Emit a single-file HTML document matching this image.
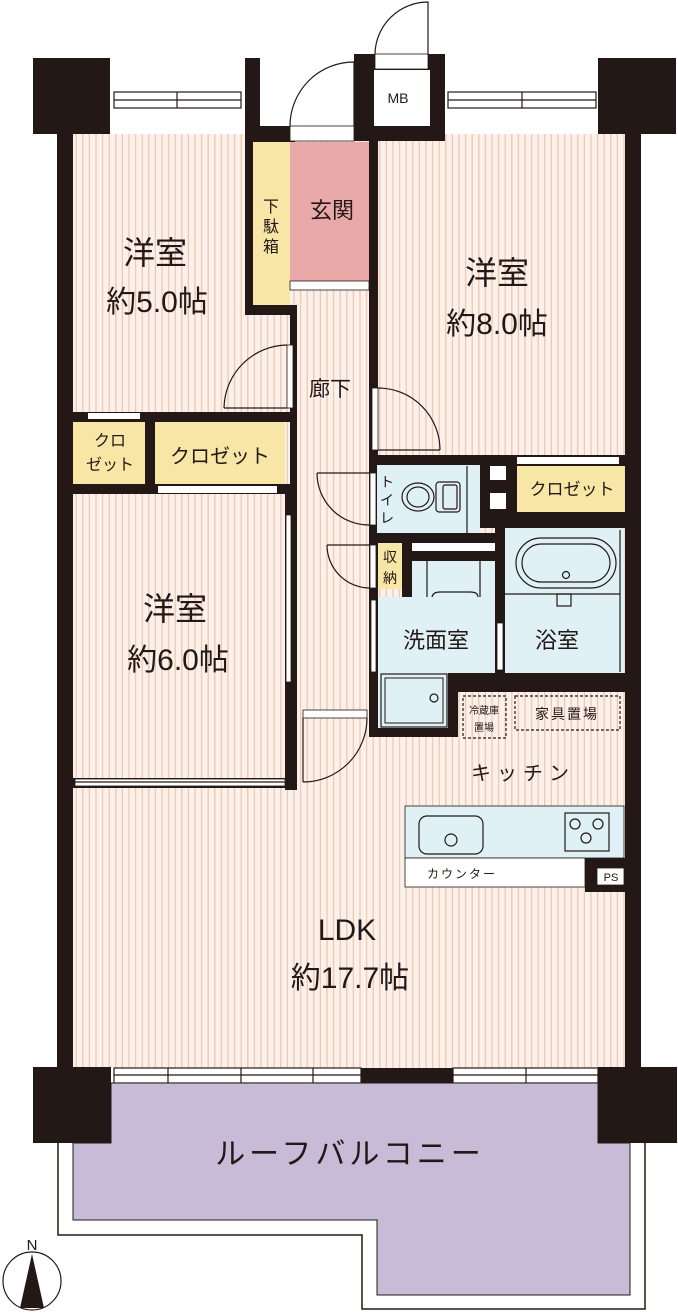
<!DOCTYPE html>
<html><head><meta charset="utf-8"><style>
html,body{margin:0;padding:0;background:#fff;}
svg{display:block;}
text{font-family:"Liberation Sans","Noto Sans CJK JP",sans-serif;fill:#231815;}
</style></head><body>
<svg width="678" height="1314" viewBox="0 0 678 1314" xmlns="http://www.w3.org/2000/svg">
<defs>
<pattern id="st" width="6.6" height="10" patternUnits="userSpaceOnUse">
<rect width="6.6" height="10" fill="#fcf0ed"/>
<rect x="3" width="1.2" height="10" fill="#ebc7a6"/>
</pattern>
</defs>
<!-- floors -->
<rect x="73" y="134" width="554" height="934" fill="url(#st)"/>
<!-- top windows -->
<g fill="#fff" stroke="#231815" stroke-width="1.2">
<rect x="114" y="92" width="127" height="16"/><line x1="114" y1="100" x2="241" y2="100"/><line x1="177" y1="92" x2="177" y2="108"/>
<rect x="448" y="92" width="148" height="16"/><line x1="448" y1="100" x2="596" y2="100"/><line x1="522" y1="92" x2="522" y2="108"/>
</g>
<g fill="#231815">
<rect x="33" y="58" width="77" height="76"/>
<rect x="598" y="58" width="78" height="76"/>
<rect x="57" y="134" width="16" height="934"/>
<rect x="625" y="134" width="16" height="934"/>
<rect x="245" y="58" width="15" height="84"/>
<rect x="245" y="126" width="50" height="16"/>
<rect x="245" y="142" width="8" height="173"/>
<rect x="245" y="305" width="52" height="10"/>
<rect x="354" y="54" width="91" height="87"/>
<rect x="369" y="141" width="9" height="324"/>
<rect x="290" y="305" width="7" height="485"/>
<rect x="73" y="412" width="220" height="10"/>
<rect x="145" y="412" width="10" height="80"/>
<rect x="73" y="484" width="220" height="10"/>
<rect x="285" y="494" width="8" height="296"/>
<rect x="73" y="778" width="220" height="10"/>
<rect x="369" y="455" width="272" height="11"/>
<rect x="369" y="455" width="9" height="282"/>
<rect x="480" y="455" width="37" height="73"/>
<rect x="480" y="512" width="161" height="16"/>
<rect x="369" y="533" width="136" height="10"/>
<rect x="495" y="528" width="10" height="164"/>
<rect x="402" y="543" width="10" height="54"/>
<rect x="402" y="551" width="93" height="10"/>
<rect x="369" y="589" width="9" height="148"/>
<rect x="448" y="673" width="193" height="19"/>
<rect x="448" y="673" width="10" height="64"/>
<rect x="369" y="728" width="89" height="9"/>
<rect x="522" y="858" width="103" height="8"/>
<rect x="585" y="858" width="40" height="34"/>
<!-- bottom -->
<rect x="33" y="1067" width="78" height="76"/>
<rect x="598" y="1067" width="79" height="76"/>
<rect x="361" y="1068" width="92" height="15"/>
</g>
<!-- colored rooms -->
<rect x="253" y="142" width="37" height="163" fill="#f7e6a5"/>
<rect x="290" y="142" width="79" height="139" fill="#e8a9a8"/>
<rect x="290" y="281" width="79" height="9" fill="#fff" stroke="#231815" stroke-width="0.8"/>
<rect x="290" y="126" width="64" height="15" fill="#fff" stroke="#231815" stroke-width="0.8"/>
<rect x="374" y="70" width="56" height="56" fill="#fff"/>
<rect x="375" y="54" width="53" height="15" fill="#fff" stroke="#231815" stroke-width="0.8"/>
<rect x="73" y="422" width="72" height="62" fill="#f7e6a5"/>
<rect x="155" y="422" width="130" height="62" fill="#f7e6a5"/>
<rect x="88" y="413" width="52" height="6" fill="#fff"/>
<rect x="158" y="486" width="119" height="7" fill="#fff"/>
<rect x="377" y="465" width="103" height="68" fill="#dff1f4"/>
<rect x="490" y="466" width="16" height="14" fill="#fff"/>
<rect x="490" y="493" width="16" height="16" fill="#fff"/>
<rect x="517" y="466" width="107" height="46" fill="#f7e6a5"/>
<rect x="517" y="457" width="102" height="7" fill="#fff"/>
<rect x="505" y="528" width="119" height="145" fill="#dff1f4"/>
<rect x="378" y="543" width="24" height="46" fill="#f7e6a5"/>
<rect x="412" y="543" width="83" height="8" fill="#fff"/>
<rect x="412" y="561" width="83" height="36" fill="#dff1f4"/>
<rect x="378" y="597" width="117" height="76" fill="#dff1f4"/>
<rect x="378" y="673" width="70" height="55" fill="#dff1f4"/>
<rect x="381" y="674" width="66" height="53" fill="#dff1f4" stroke="#231815" stroke-width="1.2"/>
<rect x="385" y="678" width="58" height="45" fill="none" stroke="#231815" stroke-width="1"/>
<circle cx="434" cy="698" r="4" fill="none" stroke="#231815" stroke-width="1.2"/>
<!-- door leaves/sliding -->
<g fill="#fff" stroke="#231815" stroke-width="0.8">
<rect x="287" y="345" width="6" height="63"/>
<rect x="372" y="388" width="6" height="62"/>
<rect x="370" y="473" width="6" height="52"/>
<rect x="370" y="545" width="6" height="43"/>
<rect x="371" y="600" width="5" height="72"/>
<rect x="497" y="623" width="6" height="47"/>
<rect x="286" y="515" width="5" height="167"/>
<rect x="75" y="779" width="210" height="7"/>
<rect x="303" y="710" width="64" height="8"/>
<rect x="405" y="806" width="219" height="52" fill="#dff1f4"/>
<rect x="405" y="858" width="180" height="29"/>
<rect x="597" y="868" width="27" height="17"/>
</g>
<!-- arcs -->
<g fill="none" stroke="#231815" stroke-width="1.2">
<path d="M290 126 A64 64 0 0 1 354 62 L354 126"/>
<path d="M375 54 A53 53 0 0 1 428 2 L428 54"/>
<path d="M224 408 A64 64 0 0 1 287 345"/><line x1="224" y1="408" x2="287" y2="408"/>
<path d="M378 388 A62 62 0 0 1 440 450"/><line x1="378" y1="450" x2="440" y2="450"/>
<path d="M317 473 A52 52 0 0 0 369 525"/><line x1="317" y1="473" x2="369" y2="473"/>
<path d="M327 545 A43 43 0 0 0 369 588"/><line x1="327" y1="545" x2="369" y2="545"/>
<path d="M303 782 A64 64 0 0 0 367 718"/><line x1="303" y1="718" x2="303" y2="782"/>
<line x1="75" y1="782" x2="285" y2="782"/>
<!-- toilet -->
<ellipse cx="418" cy="497" rx="16" ry="14"/>
<ellipse cx="418" cy="497" rx="11" ry="10"/>
<rect x="436" y="482" width="24" height="30" rx="3"/>
<rect x="443" y="485" width="14" height="24" rx="2"/>
<line x1="467" y1="466" x2="467" y2="533"/>
<!-- tub -->
<rect x="516" y="538" width="100" height="50" rx="25"/>
<rect x="522" y="544" width="88" height="38" rx="19"/>
<circle cx="566" cy="575" r="3.5"/>
<line x1="505" y1="594" x2="620" y2="594"/>
<rect x="557" y="594" width="14" height="12"/>
<line x1="620" y1="530" x2="620" y2="672"/>
<!-- sink -->
<line x1="427" y1="561" x2="427" y2="597"/><line x1="480" y1="561" x2="480" y2="597"/>
<path d="M432 597 Q433 592 440 592 L470 592 Q478 592 478 597"/>
<!-- kitchen sink & stove -->
<rect x="419" y="816" width="64" height="38" rx="8"/>
<circle cx="451" cy="840" r="6"/>
<rect x="565" y="813" width="44" height="38"/>
<circle cx="575" cy="824" r="5"/><circle cx="598" cy="824" r="5"/><circle cx="586" cy="838" r="5"/>
</g>
<!-- dashed boxes -->
<g fill="none" stroke="#231815" stroke-width="1.2" stroke-dasharray="3,2">
<rect x="463" y="696" width="43" height="42"/>
<rect x="515" y="696" width="105" height="34"/>
</g>
<!-- bottom windows -->
<g fill="#fff" stroke="#231815" stroke-width="1.2">
<rect x="114" y="1068" width="247" height="15"/><line x1="114" y1="1075" x2="361" y2="1075"/>
<line x1="168" y1="1068" x2="168" y2="1083"/><line x1="241" y1="1068" x2="241" y2="1083"/><line x1="313" y1="1068" x2="313" y2="1083"/>
<rect x="453" y="1068" width="145" height="15"/><line x1="453" y1="1075" x2="598" y2="1075"/><line x1="526" y1="1068" x2="526" y2="1083"/>
</g>
<!-- balcony -->
<path d="M58 1143 L58 1235 L362 1235 L362 1309 L645 1309 L645 1143" fill="none" stroke="#231815" stroke-width="1.5"/>
<path d="M111 1083 L598 1083 L598 1143 L630 1143 L630 1295 L377 1295 L377 1220 L73 1220 L73 1143 L111 1143 Z" fill="#c8bbd8" stroke="#231815" stroke-width="1"/>
<rect x="33" y="1067" width="78" height="76" fill="#231815"/>
<rect x="598" y="1067" width="79" height="76" fill="#231815"/>
<!-- compass -->
<ellipse cx="32" cy="1281" rx="29" ry="29" fill="#fff" stroke="#231815" stroke-width="1.2"/>
<path d="M32 1254 L44 1308 L20 1308 Z" fill="#231815"/>
<text x="32" y="1250" font-size="15" text-anchor="middle">N</text>
<!-- labels -->
<g text-anchor="middle">
<text x="155" y="264" font-size="32">洋室</text>
<text x="157" y="312" font-size="30">約5.0帖</text>
<text x="497" y="284" font-size="32">洋室</text>
<text x="497" y="334" font-size="30">約8.0帖</text>
<text x="175" y="620" font-size="32">洋室</text>
<text x="178" y="670" font-size="30">約6.0帖</text>
<text x="332" y="218" font-size="22">玄関</text>
<text x="271" y="212" font-size="16">下</text>
<text x="271" y="232" font-size="16">駄</text>
<text x="271" y="252" font-size="16">箱</text>
<text x="330" y="396" font-size="21">廊下</text>
<text x="398" y="103" font-size="14">MB</text>
<text x="110" y="446" font-size="16">クロ</text>
<text x="110" y="470" font-size="16">ゼット</text>
<text x="220" y="463" font-size="20">クロゼット</text>
<text x="572" y="495" font-size="17">クロゼット</text>
<text x="387" y="487" font-size="14">ト</text>
<text x="387" y="505" font-size="14">イ</text>
<text x="387" y="523" font-size="14">レ</text>
<text x="390" y="562" font-size="14">収</text>
<text x="390" y="583" font-size="14">納</text>
<text x="436" y="648" font-size="22">洗面室</text>
<text x="557" y="648" font-size="22">浴室</text>
<text x="484" y="714" font-size="10">冷蔵庫</text>
<text x="484" y="731" font-size="10">置場</text>
<text x="567" y="719" font-size="14" letter-spacing="2">家具置場</text>
<text x="523" y="780" font-size="20" letter-spacing="6">キッチン</text>
<text x="462" y="878" font-size="12" letter-spacing="2">カウンター</text>
<text x="611" y="881" font-size="11">PS</text>
<text x="347" y="940" font-size="30">LDK</text>
<text x="350" y="988" font-size="30">約17.7帖</text>
<text x="350" y="1164" font-size="30" letter-spacing="4">ルーフバルコニー</text>
</g>
</svg>
</body></html>
